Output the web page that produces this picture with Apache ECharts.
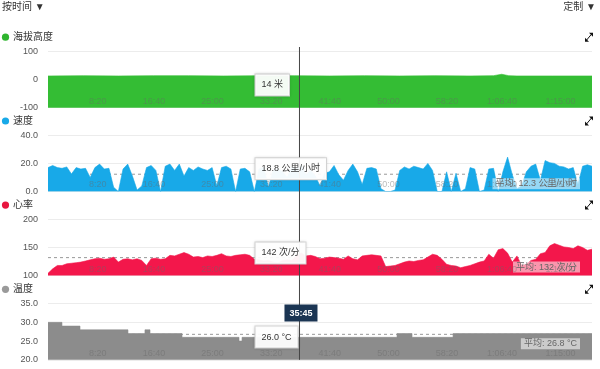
<!DOCTYPE html>
<html><head><meta charset="utf-8">
<script src="https://cdn.jsdelivr.net/npm/echarts@6/dist/echarts.min.js"></script>
<style>html,body{margin:0;padding:0;background:#fff}#c{width:600px;height:369px}</style>
</head><body><div id="c"></div>
<script>
// ---------- data ----------
const SAMPLE_STEP = 40; // seconds between speed / heart-rate samples
const speedValues = [
  17, 18.5, 17, 16.5, 17.5, 12.5, 17, 16, 16.5, 10,
  17, 19.5, 16, 16.5, 3, 0, 16, 19.5, 11, 1,
  4, 17, 18.5, 15, 0, 18, 19.5, 15, 19.5, 11,
  17, 15, 17.5, 16, 15, 17, 4, 17, 18, 16,
  0, 16, 16.5, 14, 0, 16, 17, 3, 15, 16,
  14, 10, 17, 16, 18.8, 12, 15, 11, 4, 13,
  14, 18.5, 12, 8, 15, 19.5, 14, 5, 16.5, 17,
  16, 2, 0, 0, 1, 15, 17.5, 16, 18, 17,
  16, 20, 15, 0, 0, 14, 0, 13, 0, 2,
  17, 16, 0, 1, 16, 16.5, 0, 14, 24.5, 12,
  2, 4, 14, 18, 19.5, 8, 22, 20.5, 20, 18,
  17.5, 16, 17, 5, 18, 19, 18
];
const heartValues = [
  104, 112, 118, 118, 121, 122, 123, 124, 126, 128,
  130, 131, 129, 130, 133, 124, 129, 130, 128, 130,
  127, 118, 130, 131, 129, 130, 136, 135, 138, 141,
  138, 133, 134, 132, 135, 134, 136, 139, 135, 134,
  136, 137, 138, 136, 129, 128, 126, 127, 124, 122,
  127, 128, 127, 135, 140, 135, 136, 134, 130, 131,
  133, 132, 131, 129, 135, 130, 128, 135, 136, 137,
  136, 135, 116, 117, 118, 121, 124, 126, 125, 127,
  128, 133, 138, 136, 129, 120, 118, 117, 114, 116,
  118, 121, 124, 126, 138, 131, 146, 148, 140, 124,
  135, 118, 120, 127, 129, 139, 141, 153, 157, 154,
  151, 150, 148, 153, 150, 145, 147
];
const altitudeTimes  = [0, 300, 600, 900, 1200, 1500, 1800, 2100, 2400, 2700, 3000, 3300, 3600, 3800, 3870, 3930, 4000, 4300, 4640];
const altitudeValues = [13, 14, 13, 14, 14, 13, 14, 14, 13, 14, 13, 14, 13, 14, 19, 14, 13, 13, 13];
const temperatureTimes  = [0, 119, 273, 682, 827, 870, 1143, 1629, 1655, 2977, 3105, 3455, 4640];
const temperatureValues = [30, 29, 28, 27, 28, 27, 26, 25, 26, 27, 26, 27, 27];

const panelNames = ['海拔高度', '速度', '心率', '温度'];
const averages = [null, 12.3, 132, 26.8];
const averageLabels = [null, '平均: 12.3 公里/小时', '平均: 132 次/分', '平均: 26.8 °C'];
const cursorTime = 2145;
const cursorTimeLabel = '35:45';
const cursorLabels = ['14 米', '18.8 公里/小时', '142 次/分', '26.0 °C'];
const yRanges = [[-100, 100, 100], [0, 40, 20], [100, 200, 50], [20, 35, 5]];
const yDecimals = [0, 1, 0, 1];
const X_MAX = 4640, X_INTERVAL = 500;
const headerLeft = '按时间 ▼', headerRight = '定制 ▼';

// ---------- style ----------
const colors = ['#34bd34', '#18a9e8', '#f3174b', '#8c8c8c'];
const dotColors = ['#2fb52f', '#18a9e8', '#e8163f', '#9a9a9a'];
const FONT = "'Liberation Sans','Noto Sans CJK SC',sans-serif";
const PANEL_TOP = [51.5, 135.3, 219.4, 303.6];
const PANEL_H = 56.2;
const LEFT = 48, RIGHT = 8;

function fmtTime(s) {
  const h = Math.floor(s / 3600), m = Math.floor((s % 3600) / 60), sec = Math.round(s % 60);
  const p = n => String(n).padStart(2, '0');
  return h > 0 ? h + ':' + p(m) + ':' + p(sec) : m + ':' + p(sec);
}

const speedData = speedValues.map((v, i) => [i * SAMPLE_STEP, v]);
const heartData = heartValues.map((v, i) => [i * SAMPLE_STEP, v]);
const altitudeData = altitudeTimes.map((t, i) => [t, altitudeValues[i]]);
const temperatureData = temperatureTimes.map((t, i) => [t, temperatureValues[i]]);
const seriesData = [altitudeData, speedData, heartData, temperatureData];

const grids = [], xAxes = [], yAxes = [], series = [];
for (let k = 0; k < 4; k++) {
  grids.push({ left: LEFT, right: RIGHT, top: PANEL_TOP[k], height: PANEL_H });
  xAxes.push({
    type: 'value', gridIndex: k, min: 0, max: X_MAX, interval: X_INTERVAL,
    axisLine: { show: false }, axisTick: { show: false }, splitLine: { show: false },
    axisLabel: {
      inside: true, align: 'right', margin: 2, showMinLabel: false, showMaxLabel: false,
      color: 'rgba(105,105,105,0.45)', fontSize: 9, fontFamily: FONT,
      formatter: v => fmtTime(v)
    },
    z: 5
  });
  yAxes.push({
    type: 'value', gridIndex: k, min: yRanges[k][0], max: yRanges[k][1], interval: yRanges[k][2],
    axisLine: { show: false }, axisTick: { show: false },
    splitLine: { lineStyle: { color: '#ececec', width: 1 } },
    axisLabel: { color: '#555', fontSize: 9, fontFamily: FONT, margin: 10,
      formatter: v => v.toFixed(yDecimals[k]) }
  });
  const s = {
    type: 'line', xAxisIndex: k, yAxisIndex: k, data: seriesData[k],
    showSymbol: false, symbol: 'none', silent: true, animation: false, z: 3,
    lineStyle: { width: 0.6, color: colors[k] },
    areaStyle: { color: colors[k], opacity: 1, origin: 'start' }
  };
  if (k === 3) s.step = 'end';
  if (averages[k] !== null) {
    s.markLine = {
      silent: true, symbol: ['none', 'none'], animation: false,
      lineStyle: { color: 'rgba(0,0,0,0)', width: 1 },
      label: {
        show: true, position: 'insideEndBottom', formatter: averageLabels[k], distance: [12, 4],
        color: '#666', fontSize: 9, fontFamily: FONT,
        backgroundColor: 'rgba(255,255,255,0.55)', padding: [1, 3]
      },
      data: [{ yAxis: averages[k] }]
    };
    series.push({
      type: 'line', xAxisIndex: k, yAxisIndex: k, silent: true, animation: false, z: 1,
      data: [[0, averages[k]], [X_MAX, averages[k]]], symbol: 'none',
      lineStyle: { color: '#999', width: 1, type: [3, 3] }
    });
  }
  series.push(s);
}

const chart = echarts.init(document.getElementById('c'));
chart.setOption({
  animation: false, backgroundColor: '#fff',
  grid: grids, xAxis: xAxes, yAxis: yAxes, series: series
});

// ---------- overlays ----------
const cx = chart.convertToPixel({ xAxisIndex: 0 }, cursorTime);
const g = [];
g.push({ type: 'text', left: 2, top: 2, style: { text: headerLeft, fill: '#333', font: '10px ' + FONT } });
g.push({ type: 'text', right: 4, top: 2, style: { text: headerRight, fill: '#333', font: '10px ' + FONT } });
for (let k = 0; k < 4; k++) {
  const ly = PANEL_TOP[k] - 14.3;
  g.push({ type: 'circle', shape: { cx: 5.5, cy: ly, r: 3.6 }, style: { fill: dotColors[k] }, z: 10 });
  g.push({ type: 'text', x: 13, y: ly, style: { text: panelNames[k], fill: '#333', font: '10px ' + FONT, textVerticalAlign: 'middle' }, z: 10 });
  // expand icon
  const ix = 589, iy = ly;
  g.push({ type: 'polygon', shape: { points: [[ix + 4, iy - 4.5], [ix + 4, iy - 0.5], [ix, iy - 4.5]] }, style: { fill: '#111' }, z: 10 });
  g.push({ type: 'polygon', shape: { points: [[ix - 4, iy + 4.5], [ix - 4, iy + 0.5], [ix, iy + 4.5]] }, style: { fill: '#111' }, z: 10 });
  g.push({ type: 'line', shape: { x1: ix - 2.5, y1: iy + 3, x2: ix + 2.5, y2: iy - 3 }, style: { stroke: '#111', lineWidth: 1 }, z: 10 });
}
g.push({ type: 'line', shape: { x1: cx, y1: 47, x2: cx, y2: PANEL_TOP[3] + PANEL_H }, style: { stroke: '#444', lineWidth: 1 }, z: 20 });
for (let k = 0; k < 4; k++) {
  g.push({
    type: 'text', x: cx - 44, y: PANEL_TOP[k] + 33.5, z: 30,
    style: {
      text: cursorLabels[k], fill: '#333', font: '9px ' + FONT, textVerticalAlign: 'middle',
      backgroundColor: 'rgba(255,255,255,0.95)', borderColor: '#d8d8d8', borderWidth: 1,
      padding: [6, 6], shadowColor: 'rgba(0,0,0,0.12)', shadowBlur: 3
    }
  });
}
g.push({
  type: 'text', x: cx + 1.5, y: PANEL_TOP[3] + 9.5, z: 40,
  style: {
    text: cursorTimeLabel, fill: '#fff', font: 'bold 9px ' + FONT, textAlign: 'center', textVerticalAlign: 'middle',
    backgroundColor: '#1b3553', padding: [4, 5]
  }
});
chart.setOption({ graphic: g });
</script>
</body></html>
